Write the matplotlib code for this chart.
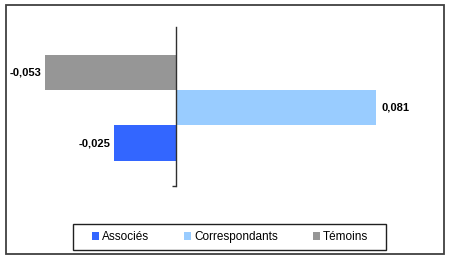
import matplotlib
matplotlib.use("Agg")
import matplotlib.pyplot as plt
from matplotlib.patches import Patch, Rectangle

plt.rcParams['font.family'] = ['Liberation Sans', 'DejaVu Sans']

series = ["Associés", "Correspondants", "Témoins"]
values = [-0.025, 0.081, -0.053]
colors = ["#3366FF", "#99CCFF", "#969696"]

W, H = 450, 258
fig = plt.figure(figsize=(W / 100, H / 100), dpi=100)

# outer frame
fig.patches.append(Rectangle((5.5 / W, 4.5 / H), 438.5 / W, 248.5 / H,
                             transform=fig.transFigure, fill=False,
                             edgecolor="#404040", linewidth=1.3))

ax = fig.add_axes([20 / W, (H - 186) / H, 410 / W, 159 / H])
ypos = list(range(len(series)))
ax.barh(ypos, values, height=1.0, color=colors)

ax.set_xlim(-0.0633, 0.1031)
ax.set_ylim(-1.22, 3.3)

for s in ("top", "right", "bottom"):
    ax.spines[s].set_visible(False)
ax.spines["left"].set_position(("data", 0))
ax.spines["left"].set_color("#303030")
ax.spines["left"].set_linewidth(1.0)
ax.set_xticks([])
ax.set_yticks([-1.22])
ax.set_yticklabels([])
ax.tick_params(axis="y", length=3, width=1, color="#303030", direction="out")

for y, v in zip(ypos, values):
    label = f"{v:.3f}".replace(".", ",")
    off = 4 if v >= 0 else -3
    ax.annotate(label, (v, y), xytext=(off, 0), textcoords="offset points",
                ha="left" if v >= 0 else "right", va="center",
                fontsize=8, fontweight="bold", color="black")

# legend box
fig.patches.append(Rectangle((73 / W, (H - 250) / H), 313 / W, 26 / H,
                             transform=fig.transFigure, fill=False,
                             edgecolor="#202020", linewidth=1.0))
handles = [Patch(facecolor=c, edgecolor="none") for c in colors]
leg = fig.legend(handles, series, loc="center", ncol=3,
                 bbox_to_anchor=(230 / W, (H - 237) / H),
                 fontsize=8.5, frameon=False,
                 handlelength=0.6, handleheight=0.6, handletextpad=0.25,
                 columnspacing=2.95, borderaxespad=0, borderpad=0)

fig.savefig("out.png", dpi=100)
